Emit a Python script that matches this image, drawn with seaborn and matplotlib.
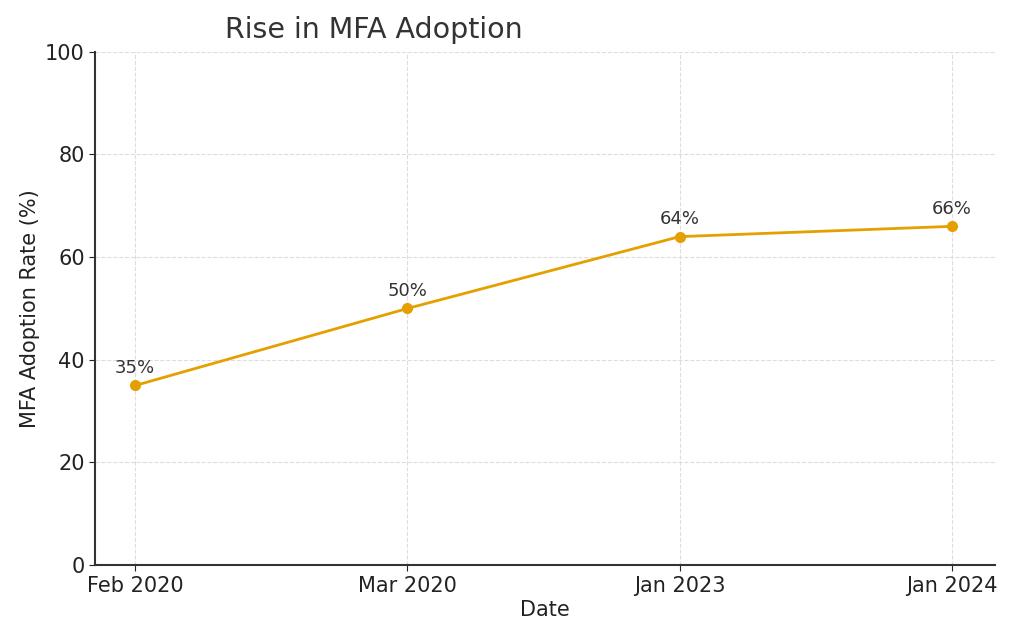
import pandas as pd
import seaborn as sns
import matplotlib.pyplot as plt

# data
dates = ['Feb 2020', 'Mar 2020', 'Jan 2023', 'Jan 2024']
rates = [35, 50, 64, 66]
line_color = '#E69F00'

df = pd.DataFrame({'Date': dates, 'Rate': rates})

sns.set_style('ticks')
plt.rcParams['font.family'] = ['DejaVu Sans']

fig, ax = plt.subplots(figsize=(10.24, 6.4), dpi=100)
fig.subplots_adjust(left=0.093, right=0.972, top=0.919, bottom=0.117)

sns.lineplot(data=df, x='Date', y='Rate', marker='o', markersize=8,
             markeredgewidth=0, color=line_color, linewidth=2, sort=False, ax=ax)

for i, v in enumerate(df['Rate']):
    ax.annotate(f'{v}%', (i, v), xytext=(0, 6), textcoords='offset points',
                ha='center', va='bottom', fontsize=13, color='#333333')

ax.set_ylim(0, 100)
ax.set_yticks(range(0, 101, 20))
ax.set_xlim(-0.147, 3.16)
ax.grid(True, linestyle='--', color='#dddddd', linewidth=0.8)
ax.set_axisbelow(True)
sns.despine(ax=ax)
for s in ['left', 'bottom']:
    ax.spines[s].set_color('#333333')
    ax.spines[s].set_linewidth(1.5)

ax.tick_params(labelsize=15, colors='#222222', length=4)
ax.set_xlabel('Date', fontsize=15, color='#222222', labelpad=3)
ax.set_ylabel('MFA Adoption Rate (%)', fontsize=15, color='#222222')
ax.set_title('Rise in MFA Adoption', fontsize=20.5, color='#333333', x=0.309, pad=10)

fig.savefig('out.png', dpi=100)
